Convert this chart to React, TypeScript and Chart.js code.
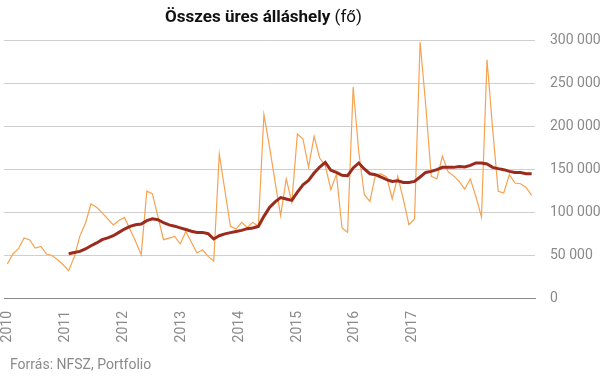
import React, { useEffect, useRef } from "react";
import { Chart, registerables } from "chart.js";

Chart.register(...registerables);

// Monthly vacancies, Jan 2010 .. Nov 2017
const MONTHLY: number[] = [
  39500, 51200, 57300, 69800, 67500, 58100, 60000, 51200, 49500, 44500, 38700, 31700,
  48000, 72000, 87000, 109300, 105500, 99000, 92000, 85000, 90000, 93700, 79600, 65600,
  50300, 124200, 121300, 94500, 67800, 69700, 71600, 62900, 77400, 64800, 52300, 56100,
  48400, 43000, 167400, 125000, 83300, 80200, 87900, 82100, 87900, 83300, 213100, 176000,
  135000, 95700, 138400, 111500, 190700, 184900, 152300, 187900, 162800, 154000, 125900, 144000,
  81400, 76500, 245300, 170000, 120100, 112300, 143400, 144200, 140700, 115100, 141400, 114300,
  85200, 91900, 297500, 225000, 141400, 138400, 165000, 147000, 142000, 135600, 126700, 138400,
  118100, 94200, 277100, 197000, 124000, 122100, 143400, 133700, 132900, 128500, 119300,
];

// 12-month moving average, starting at month index MA_START
const MA_START = 11;
const MOVING_AVG: number[] = [
  51500, 53000, 54200, 57000, 60800, 64000, 67800, 70000, 72400, 76300, 80200, 83300,
  85200, 86000, 89900, 92000, 91000, 87500, 85000, 83500, 81500, 79600, 77600, 76300,
  76300, 74800, 68600, 72400, 74600, 76000, 77400, 78600, 80600, 81400, 83300, 94900,
  105300, 111800, 116800, 115100, 113500, 123000, 131700, 136700, 145300, 152300, 157700, 148400,
  146000, 142600, 142200, 151200, 157000, 150000, 144500, 143400, 140700, 137600, 135600, 136400,
  134400, 134400, 135600, 140700, 146000, 147200, 149200, 151900, 151900, 151900, 153000, 152300,
  154200, 157000, 157000, 155800, 151900, 150400, 149200, 147200, 146000, 146000, 144500, 144500,
];

const YEAR_LABELS: string[] = ["2010", "2011", "2012", "2013", "2014", "2015", "2016", "2017"];
const YEAR_TICK_POS: number[] = [0.1, 10.5, 20.9, 31.3, 41.7, 52.0, 62.3, 72.7];
const Y_TICKS: number[] = [0, 50000, 100000, 150000, 200000, 250000, 300000];

const TITLE_BOLD = "Összes üres álláshely";
const TITLE_NORMAL = "(fő)";
const SOURCE = "Forrás: NFSZ, Portfolio";

const FONT = "Roboto, 'Noto Sans', sans-serif";

export default function App() {
  const ref = useRef<HTMLCanvasElement | null>(null);

  useEffect(() => {
    if (!ref.current) return;
    const monthly = MONTHLY.map((v, i) => ({ x: i, y: v }));
    const ma = MOVING_AVG.map((v, i) => ({ x: i + MA_START, y: v }));
    const chart = new Chart(ref.current, {
      type: "line",
      data: {
        datasets: [
          {
            label: "Mozgóátlag",
            data: ma,
            borderColor: "#9a2b1d",
            borderWidth: 3,
            pointRadius: 0,
            tension: 0,
            fill: false,
          },
          {
            label: "Havi",
            data: monthly,
            borderColor: "#f6a251",
            borderWidth: 1.2,
            pointRadius: 0,
            tension: 0,
            fill: false,
          },
        ],
      },
      options: {
        animation: false,
        responsive: false,
        maintainAspectRatio: false,
        layout: { padding: { left: 4, right: 0, top: 40, bottom: 30 } },
        plugins: {
          legend: { display: false },
          title: { display: false },
          tooltip: { enabled: false },
        },
        scales: {
          x: {
            type: "linear",
            min: -0.6,
            max: 94.6,
            grid: { display: false, drawTicks: false },
            border: { display: true, color: "#8a8a8a", width: 1 },
            afterBuildTicks: (scale: any) => {
              scale.ticks = YEAR_TICK_POS.map((v) => ({ value: v }));
            },
            afterFit: (scale: any) => {
              scale.height = 50;
              scale.paddingLeft = 0;
              scale.paddingRight = 0;
            },
            ticks: {
              autoSkip: false,
              maxRotation: 90,
              minRotation: 90,
              padding: 13,
              color: "#8a8a8a",
              font: { family: FONT, size: 14 },
              callback: (_v: any, index: number) => YEAR_LABELS[index],
            },
          },
          y: {
            position: "right",
            min: 0,
            max: 300000,
            afterBuildTicks: (scale: any) => {
              scale.ticks = Y_TICKS.map((v) => ({ value: v }));
            },
            afterFit: (scale: any) => {
              scale.width = 70;
            },
            grid: { color: "#cfcfcf", lineWidth: 1, drawTicks: false },
            border: { display: false },
            ticks: {
              padding: 15,
              color: "#8a8a8a",
              font: { family: FONT, size: 14 },
              callback: (v: any) =>
                String(v).replace(/\B(?=(\d{3})+(?!\d))/g, " "),
            },
          },
        },
      },
    });
    return () => chart.destroy();
  }, []);

  return (
    <div
      style={{
        position: "fixed",
        left: 0,
        top: 0,
        width: 605,
        height: 378,
        background: "#ffffff",
        overflow: "hidden",
      }}
    >
      <canvas
        ref={ref}
        width={605}
        height={378}
        style={{ position: "absolute", left: 0, top: 0, width: 605, height: 378 }}
      />
      <div
        style={{
          position: "absolute",
          left: 0,
          top: 5,
          width: 527,
          textAlign: "center",
          fontFamily: FONT,
          fontSize: 17,
          lineHeight: "22px",
          color: "#111",
          whiteSpace: "nowrap",
        }}
      >
        <span style={{ fontWeight: 700 }}>{TITLE_BOLD}</span>{" "}
        <span style={{ fontWeight: 400 }}>{TITLE_NORMAL}</span>
      </div>
      <div
        style={{
          position: "absolute",
          left: 10,
          top: 355,
          fontFamily: FONT,
          fontSize: 14,
          lineHeight: "18px",
          color: "#8a8a8a",
          whiteSpace: "nowrap",
        }}
      >
        {SOURCE}
      </div>
    </div>
  );
}
